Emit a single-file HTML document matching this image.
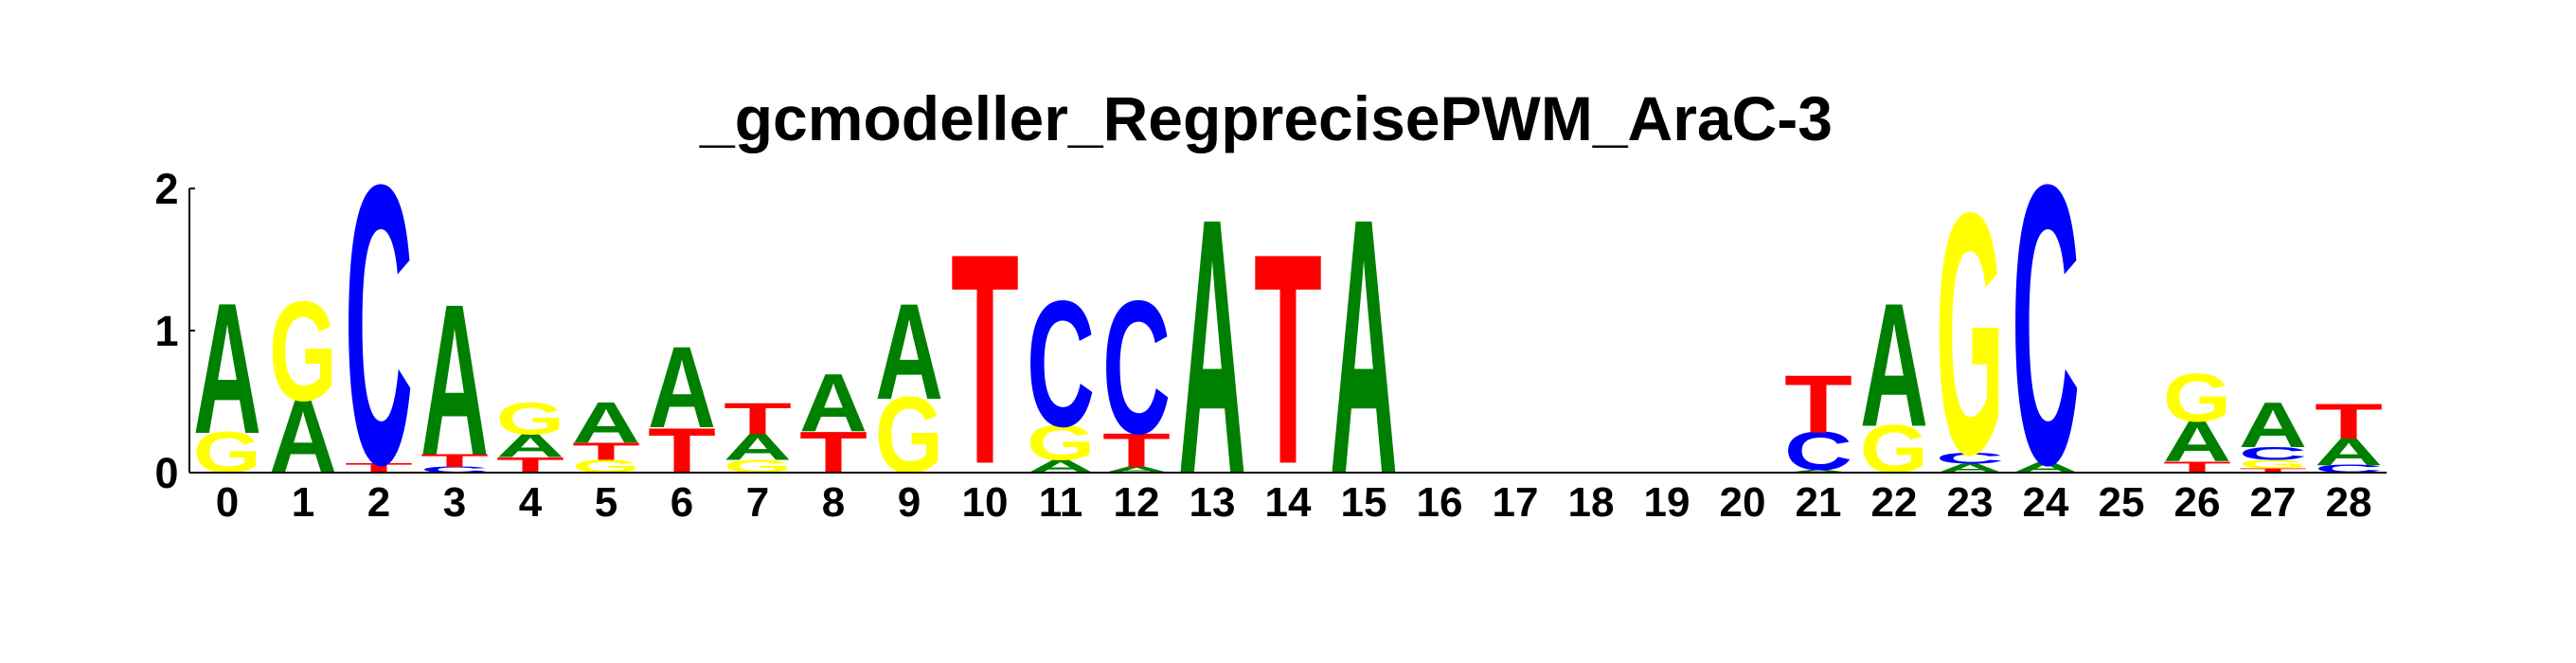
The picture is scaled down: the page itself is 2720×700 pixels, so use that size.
<!DOCTYPE html>
<html><head><meta charset="utf-8"><style>
html,body{margin:0;padding:0;background:#fff;}
svg{display:block;font-family:"Liberation Sans",sans-serif;}
</style></head><body>
<svg id="chart" width="2720" height="700" viewBox="0 0 2720 700" xmlns="http://www.w3.org/2000/svg">
<rect width="2720" height="700" fill="#fff"/>
<text x="1337" y="148" text-anchor="middle" font-size="66" font-weight="bold" textLength="1196" lengthAdjust="spacingAndGlyphs">_gcmodeller_RegprecisePWM_AraC-3</text>
<g id="marks"></g>
<g id="axes"></g>
</svg>
<script>
// positions 0..28; stacks bottom->top: [letter, height in bits]
const positions = [0,1,2,3,4,5,6,7,8,9,10,11,12,13,14,15,16,17,18,19,20,21,22,23,24,25,26,27,28];
const stacks = [
 [["G",0.28],["A",0.90]],
 [["A",0.51],["G",0.68]],
 [["T",0.07],["C",1.91]],
 [["C",0.04],["T",0.09],["A",1.04]],
 [["T",0.11],["A",0.16],["G",0.22]],
 [["G",0.09],["T",0.12],["A",0.28]],
 [["T",0.32],["A",0.56]],
 [["G",0.09],["A",0.18],["T",0.22]],
 [["T",0.29],["A",0.40]],
 [["G",0.52],["A",0.66]],
 [["_",0.07],["T",1.49]],
 [["A",0.09],["G",0.24],["C",0.86]],
 [["A",0.04],["T",0.24],["C",0.91]],
 [["A",1.76]],
 [["_",0.07],["T",1.49]],
 [["A",1.76]],
 [],[],[],[],[],
 [["A",0.02],["C",0.26],["T",0.41]],
 [["G",0.33],["A",0.85]],
 [["A",0.065],["C",0.075],["G",1.65]],
 [["A",0.07],["C",1.91]],
 [],
 [["T",0.08],["A",0.28],["G",0.33]],
 [["T",0.03],["G",0.06],["C",0.09],["A",0.31]],
 [["C",0.055],["A",0.185],["T",0.25]]
];
const yTicks = [0,1,2];
const colors = {A:"#008000",C:"#0000ff",G:"#ffff00",T:"#ff0000"};
const NS="http://www.w3.org/2000/svg";
const x0=200, x1=2520, yZero=499, pxPerBit=150;
const step=(x1-x0)/positions.length;
function xScale(i){return x0+(i+0.5)*step;}
function yScale(v){return yZero - v*pxPerBit;}
const marks=document.getElementById('marks');
const axes=document.getElementById('axes');
const lw=72;
const capH={A:68.5,T:70.5,C:68,G:68};
stacks.forEach((st,i)=>{
  let cum=0;
  st.forEach(([L,h])=>{
    const yb=yScale(cum), yt=yScale(cum+h);
    cum+=h;
    if(L==="_") return;
    const hp=yb-yt;
    const t=document.createElementNS(NS,'text');
    
    
    t.setAttribute('x',0);t.setAttribute('y',0);
    t.setAttribute('font-size',100);t.setAttribute('font-weight','bold');
    t.setAttribute('textLength',lw);t.setAttribute('lengthAdjust','spacingAndGlyphs');
    t.setAttribute('fill',colors[L]);
    t.setAttribute('transform','translate('+(xScale(i)-lw/2)+','+yb+') scale(1,'+(hp/capH[L])+')');
    t.textContent=L;
    marks.appendChild(t);
  });
});
function line(x1_,y1_,x2_,y2_,name){
  const l=document.createElementNS(NS,'line');
  
  
  l.setAttribute('x1',x1_);l.setAttribute('y1',y1_);l.setAttribute('x2',x2_);l.setAttribute('y2',y2_);
  l.setAttribute('stroke','#000');l.setAttribute('stroke-width',2);
  axes.appendChild(l);
}
line(x0,yScale(2),x0,yZero,'y-axis-line');
line(x0,yZero,x1,yZero,'x-axis-line');
yTicks.forEach(v=>{
  line(x0,yScale(v),x0+6,yScale(v),'y-tick');
  const t=document.createElementNS(NS,'text');
  
  
  t.setAttribute('x',176);t.setAttribute('y',yScale(v)+16);
  t.setAttribute('text-anchor','middle');t.setAttribute('font-size',45);t.setAttribute('font-weight','bold');
  t.textContent=v;
  axes.appendChild(t);
});
positions.forEach((p,i)=>{
  const t=document.createElementNS(NS,'text');
  
  
  t.setAttribute('x',xScale(i));t.setAttribute('y',545);
  t.setAttribute('text-anchor','middle');t.setAttribute('font-size',44);t.setAttribute('font-weight','bold');
  t.textContent=p;
  axes.appendChild(t);
});
</script>
</body></html>
